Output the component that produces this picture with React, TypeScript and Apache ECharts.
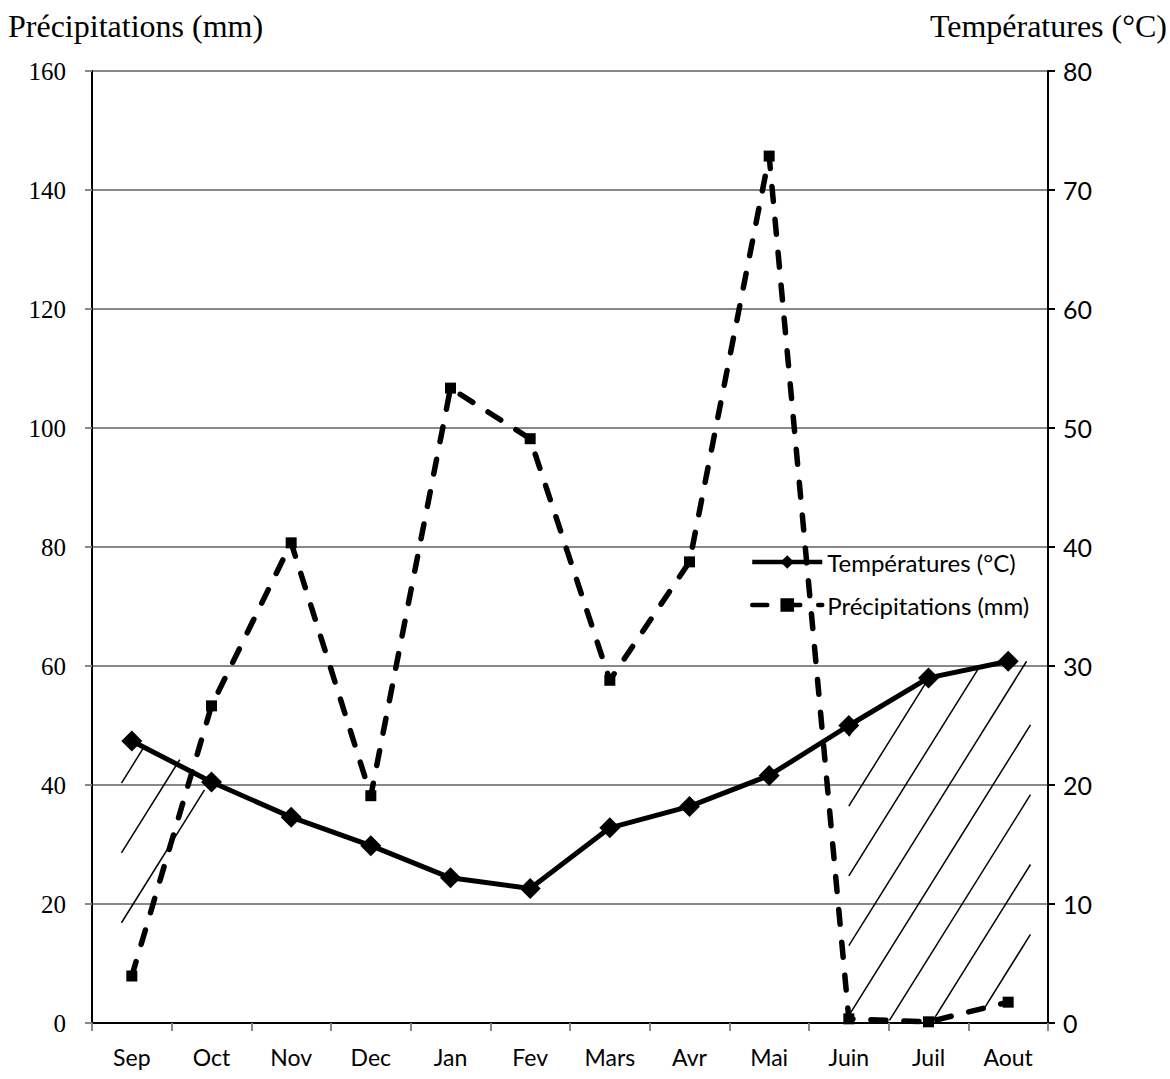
import React, { useEffect, useRef } from "react";
import * as echarts from "echarts";

const months = ["Sep", "Oct", "Nov", "Dec", "Jan", "Fev", "Mars", "Avr", "Mai", "Juin", "Juil", "Aout"];
const temperatures = [23.7, 20.25, 17.3, 14.9, 12.2, 11.3, 16.4, 18.2, 20.8, 25.0, 29.0, 30.4];
const precipitations = [7.9, 53.3, 80.7, 38.2, 106.7, 98.2, 57.6, 77.5, 145.7, 0.7, 0.2, 3.5];
const leftTicks = [0, 20, 40, 60, 80, 100, 120, 140, 160];
const rightTicks = [0, 10, 20, 30, 40, 50, 60, 70, 80];

const TEMP_NAME = "Températures (°C)";
const PREC_NAME = "Précipitations (mm)";

// build dry-period polygons (P < 2T) in data space: arrays of [xIndex, value, extensionSign]
function dryPolygons(): number[][][] {
  const polys: number[][][] = [];
  let upper: number[][] = [];
  let lower: number[][] = [];
  const last = months.length - 1;
  const f = (i: number) => precipitations[i] - 2 * temperatures[i];
  for (let i = 0; i <= last; i++) {
    const fi = f(i);
    if (i > 0) {
      const fp = f(i - 1);
      if ((fp < 0) !== (fi < 0)) {
        const t = fp / (fp - fi);
        const x = i - 1 + t;
        const v = precipitations[i - 1] + (precipitations[i] - precipitations[i - 1]) * t;
        upper.push([x, v, 0]);
        lower.push([x, v, 0]);
        if (fp < 0) {
          polys.push(upper.concat(lower.slice().reverse()));
          upper = [];
          lower = [];
        }
      }
    }
    if (fi < 0) {
      if (i === 0) {
        upper.push([0, 2 * temperatures[0], -1]);
        lower.push([0, precipitations[0], -1]);
      }
      upper.push([i, 2 * temperatures[i], 0]);
      lower.push([i, precipitations[i], 0]);
      if (i === last) {
        upper.push([last, 2 * temperatures[last], 1]);
        lower.push([last, precipitations[last], 1]);
      }
    }
  }
  if (upper.length) polys.push(upper.concat(lower.slice().reverse()));
  return polys;
}

export default function App() {
  const ref = useRef<HTMLDivElement>(null);
  useEffect(() => {
    const chart = echarts.init(ref.current!, null, { renderer: "svg" });
    const polys = dryPolygons();
    const angle = (58 * Math.PI) / 180;
    const spacing = 37;
    const extLeft = 0.13;
    const extRight = 0.28;
    const n = [Math.sin(angle), Math.cos(angle)];
    const d = [Math.cos(angle), -Math.sin(angle)];

    const renderHatch = (params: any, api: any) => {
      const children: any[] = [];
      const bandW = api.size([1, 0])[0];
      polys.forEach((poly) => {
        const pts = poly.map((p) => {
          const c = api.coord([p[0], p[1]]);
          const shift = p[2] < 0 ? -extLeft * bandW : p[2] > 0 ? extRight * bandW : 0;
          return [c[0] + shift, c[1]];
        });
        const cs = pts.map((p: number[]) => n[0] * p[0] + n[1] * p[1]);
        const cmin = Math.min(...cs);
        const cmax = Math.max(...cs);
        const start = Math.ceil(cmin / spacing) * spacing;
        for (let c = start; c <= cmax; c += spacing) {
          const hits: number[][] = [];
          for (let k = 0; k < pts.length; k++) {
            const p1 = pts[k];
            const p2 = pts[(k + 1) % pts.length];
            const s1 = cs[k] - c;
            const s2 = cs[(k + 1) % pts.length] - c;
            if ((s1 < 0 && s2 >= 0) || (s1 >= 0 && s2 < 0)) {
              const t = s1 / (s1 - s2);
              hits.push([p1[0] + (p2[0] - p1[0]) * t, p1[1] + (p2[1] - p1[1]) * t]);
            }
          }
          hits.sort((a, b) => d[0] * a[0] + d[1] * a[1] - (d[0] * b[0] + d[1] * b[1]));
          for (let h = 0; h + 1 < hits.length; h += 2) {
            children.push({
              type: "line",
              shape: { x1: hits[h][0], y1: hits[h][1], x2: hits[h + 1][0], y2: hits[h + 1][1] },
              style: { stroke: "#000", lineWidth: 1.5 },
            });
          }
        }
      });
      return { type: "group", children };
    };

    chart.setOption({
      animation: false,
      backgroundColor: "#fff",
      grid: { left: 92, right: 122, top: 71, bottom: 56 },
      legend: {
        data: [TEMP_NAME, PREC_NAME],
        orient: "vertical",
        left: 745,
        top: 545,
        itemWidth: 70,
        itemHeight: 17,
        itemGap: 19,
        lineStyle: { width: 4.5 },
        textStyle: { fontFamily: "Lato", fontSize: 24, color: "#000" },
      },
      graphic: [
        {
          type: "text",
          left: 8,
          top: 10,
          style: { text: PREC_NAME, font: "32px 'Liberation Serif'", fill: "#000" },
        },
        {
          type: "text",
          right: 3,
          top: 10,
          style: { text: TEMP_NAME, font: "32px 'Liberation Serif'", fill: "#000" },
        },
      ],
      xAxis: {
        type: "category",
        data: months,
        boundaryGap: true,
        axisLine: { lineStyle: { color: "#000", width: 2 } },
        axisTick: { show: true, length: 8, lineStyle: { color: "#888", width: 2 } },
        axisLabel: { fontFamily: "Lato", fontSize: 23, color: "#000", margin: 22 },
      },
      yAxis: [
        {
          type: "value",
          min: 0,
          max: 160,
          interval: 20,
          position: "left",
          axisLine: { show: true, lineStyle: { color: "#000", width: 2 } },
          axisTick: { show: true, length: 7, lineStyle: { color: "#888", width: 2 } },
          axisLabel: { fontFamily: "Liberation Serif", fontSize: 25, color: "#000", margin: 26 },
          splitLine: { show: true, lineStyle: { color: "#888", width: 2 } },
        },
        {
          type: "value",
          min: 0,
          max: 80,
          interval: 10,
          position: "right",
          axisLine: { show: true, lineStyle: { color: "#000", width: 2 } },
          axisTick: { show: true, length: 7, lineStyle: { color: "#000", width: 2 } },
          axisLabel: { fontFamily: "Lato", fontSize: 25, color: "#000", margin: 15 },
          splitLine: { show: false },
        },
      ],
      series: [
        {
          type: "custom",
          name: "hatch",
          xAxisIndex: 0,
          yAxisIndex: 0,
          data: [[0, 0]],
          encode: { x: 0, y: 1 },
          renderItem: renderHatch,
          silent: true,
          clip: false,
          z: 1,
        },
        {
          name: PREC_NAME,
          type: "line",
          yAxisIndex: 0,
          data: precipitations,
          symbol: "rect",
          symbolSize: 11,
          itemStyle: { color: "#000" },
          lineStyle: { color: "#000", width: 5.5, type: [15, 18], cap: "round" },
          z: 3,
        },
        {
          name: TEMP_NAME,
          type: "line",
          yAxisIndex: 1,
          data: temperatures,
          symbol: "diamond",
          symbolSize: [21, 21],
          itemStyle: { color: "#000" },
          lineStyle: { color: "#000", width: 5 },
          z: 4,
        },
      ],
    });
    return () => chart.dispose();
  }, []);
  return <div ref={ref} style={{ width: 1170, height: 1079, position: "absolute", left: 0, top: 0 }} />;
}
